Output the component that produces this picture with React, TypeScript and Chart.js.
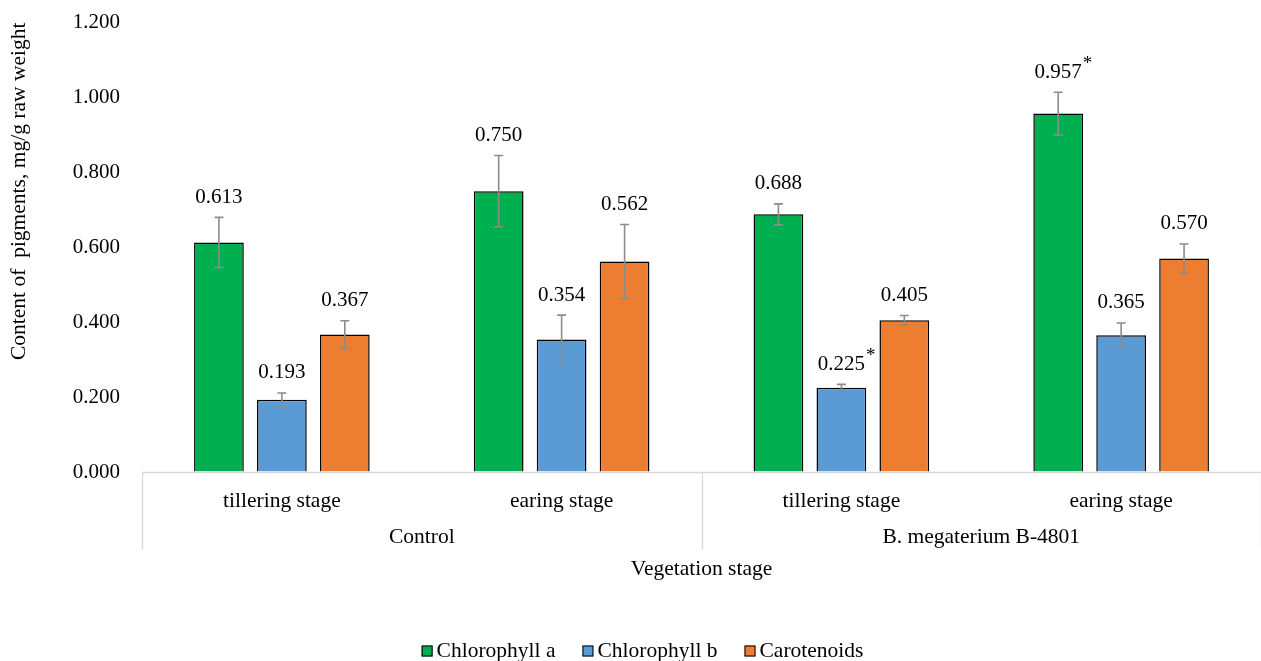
import React, { useEffect, useRef } from "react";
import { Chart, registerables } from "chart.js";

Chart.register(...registerables);

const stages = ["tillering stage", "earing stage", "tillering stage", "earing stage"];
const treatments = ["Control", "B. megaterium B-4801"];
const seriesNames = ["Chlorophyll a", "Chlorophyll b", "Carotenoids"];
const chlA = [0.613, 0.75, 0.688, 0.957];
const chlB = [0.193, 0.354, 0.225, 0.365];
const carot = [0.367, 0.562, 0.405, 0.57];
const chlAErr = [0.067, 0.095, 0.028, 0.057];
const chlBErr = [0.018, 0.065, 0.009, 0.033];
const carotErr = [0.037, 0.099, 0.013, 0.039];
const chlAMark = ["", "", "", "*"];
const chlBMark = ["", "", "*", ""];
const carotMark = ["", "", "", ""];
const yMin = 0;
const yMax = 1.2;
const yStep = 0.2;

const FONT = "'Liberation Serif', 'Times New Roman', serif";
const colors = ["#00B050", "#5B9BD5", "#ED7D31"];
const errs = [chlAErr, chlBErr, carotErr];
const marks = [chlAMark, chlBMark, carotMark];

const overlay = {
  id: "overlay",
  afterDatasetsDraw(chart: any) {
    const ctx = chart.ctx;
    const ys = chart.scales.y;
    ctx.save();
    chart.data.datasets.forEach((ds: any, di: number) => {
      const meta = chart.getDatasetMeta(di);
      meta.data.forEach((bar: any, i: number) => {
        const v = ds.data[i];
        const e = errs[di][i];
        const yt = ys.getPixelForValue(v + e);
        const yb = ys.getPixelForValue(v - e);
        const x = bar.x;
        ctx.strokeStyle = "#8C8C8C";
        ctx.lineWidth = 1.6;
        ctx.beginPath();
        ctx.moveTo(x, yt);
        ctx.lineTo(x, yb);
        ctx.moveTo(x - 4.5, yt);
        ctx.lineTo(x + 4.5, yt);
        ctx.moveTo(x - 4.5, yb);
        ctx.lineTo(x + 4.5, yb);
        ctx.stroke();
        const txt = v.toFixed(3);
        ctx.fillStyle = "#000";
        ctx.font = `21px ${FONT}`;
        ctx.textAlign = "center";
        ctx.textBaseline = "middle";
        const ly = yt - 20;
        ctx.fillText(txt, x, ly);
        const m = marks[di][i];
        if (m) {
          const w = ctx.measureText(txt).width;
          ctx.font = `19px ${FONT}`;
          ctx.textAlign = "left";
          ctx.fillText(m, x + w / 2 + 1, ly - 8);
        }
      });
    });
    ctx.restore();
  },
  afterDraw(chart: any) {
    const ctx = chart.ctx;
    const xs = chart.scales.x;
    const area = chart.chartArea;
    ctx.save();
    // category axis lines
    ctx.strokeStyle = "#D9D9D9";
    ctx.lineWidth = 1.3;
    ctx.beginPath();
    ctx.moveTo(area.left, area.bottom + 0.5);
    ctx.lineTo(area.right, area.bottom + 0.5);
    const mid = (xs.getPixelForValue(1) + xs.getPixelForValue(2)) / 2;
    [area.left, mid, area.right].forEach((px) => {
      const p = Math.round(px) + 0.5;
      ctx.moveTo(p, area.bottom);
      ctx.lineTo(p, area.bottom + 78);
    });
    ctx.stroke();
    // category labels
    ctx.fillStyle = "#000";
    ctx.font = `21.5px ${FONT}`;
    ctx.textAlign = "center";
    ctx.textBaseline = "middle";
    stages.forEach((s, i) => {
      ctx.fillText(s, xs.getPixelForValue(i), area.bottom + 29);
    });
    treatments.forEach((t, g) => {
      const cx = (xs.getPixelForValue(g * 2) + xs.getPixelForValue(g * 2 + 1)) / 2;
      ctx.fillText(t, cx, area.bottom + 65);
    });
    ctx.fillText("Vegetation stage", (area.left + area.right) / 2, area.bottom + 97);
    // legend
    ctx.font = `21.5px ${FONT}`;
    ctx.textAlign = "left";
    const box = 11;
    const gapText = 4;
    const gapItem = 27;
    const widths = chart.data.datasets.map((ds: any) => box + gapText + ctx.measureText(ds.label).width);
    const total = widths.reduce((a: number, b: number) => a + b, 0) + gapItem * (widths.length - 1);
    let lx = chart.width / 2 + 12 - total / 2;
    const ly = 651;
    chart.data.datasets.forEach((ds: any, i: number) => {
      ctx.fillStyle = ds.backgroundColor;
      ctx.fillRect(lx, ly - box / 2, box, box);
      ctx.strokeStyle = "#000";
      ctx.lineWidth = 1;
      ctx.strokeRect(lx + 0.5, ly - box / 2 + 0.5, box - 1, box - 1);
      ctx.fillStyle = "#000";
      ctx.fillText(ds.label, lx + box + gapText, ly);
      lx += widths[i] + gapItem;
    });
    ctx.restore();
  },
};

export default function App() {
  const ref = useRef<HTMLCanvasElement>(null);
  useEffect(() => {
    if (!ref.current) return;
    const yTickValues: number[] = [];
    for (let v = yMin; v <= yMax + 1e-9; v += yStep) yTickValues.push(+v.toFixed(3));
    const chart = new Chart(ref.current, {
      type: "bar",
      data: {
        labels: stages,
        datasets: [chlA, chlB, carot].map((d, i) => ({
          label: seriesNames[i],
          data: d,
          backgroundColor: colors[i],
          borderColor: "#000000",
          borderWidth: 1.5,
          categoryPercentage: 0.675,
          barPercentage: 0.79,
        })),
      },
      options: {
        responsive: false,
        animation: false,
        layout: { padding: { top: 0, left: 2, right: 0, bottom: 0 } },
        plugins: {
          tooltip: { enabled: false },
          legend: { display: false },
        },
        scales: {
          x: {
            grid: { display: false },
            border: { display: false },
            ticks: { display: false },
            afterFit: (s: any) => {
              s.height = 189;
            },
          },
          y: {
            min: yMin,
            max: yMax,
            grid: {
              display: true,
              drawOnChartArea: false,
              drawTicks: true,
              tickLength: 12,
              tickColor: "rgba(0,0,0,0)",
            },
            border: { display: false },
            afterBuildTicks: (s: any) => {
              s.ticks = yTickValues.map((v) => ({ value: v }));
            },
            ticks: {
              font: { family: FONT, size: 21 },
              color: "#000",
              padding: 10,
              callback: (v: any) => Number(v).toFixed(3),
            },
            title: {
              display: true,
              align: "end",
              text: "Content of  pigments, mg/g raw weight",
              font: { family: FONT, size: 21.5 },
              color: "#000",
              padding: 4,
            },
            afterFit: (s: any) => {
              s.width = 140;
            },
          },
        },
      },
      plugins: [overlay],
    });
    return () => chart.destroy();
  }, []);
  return (
    <div style={{ position: "fixed", left: 0, top: 0, width: 1261, height: 661, background: "#fff" }}>
      <canvas ref={ref} width={1261} height={661} style={{ display: "block" }} />
    </div>
  );
}
